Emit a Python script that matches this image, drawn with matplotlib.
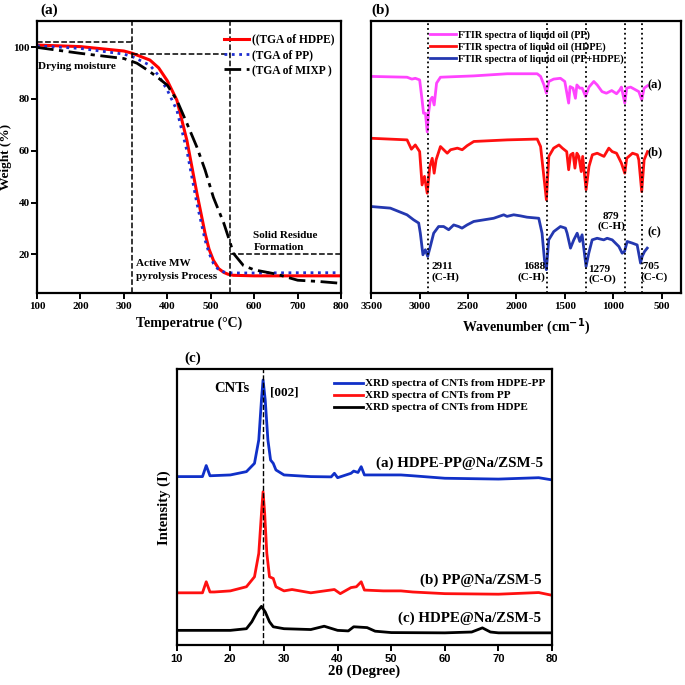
import matplotlib
matplotlib.use("Agg")
from matplotlib import pyplot as plt

plt.rcParams['font.family'] = 'Liberation Serif'
plt.rcParams['font.weight'] = 'bold'
plt.rcParams['axes.labelweight'] = 'bold'

# (a) TGA curves
temp_hdpe = [100, 200, 300, 320, 360, 380, 400, 422, 445, 468, 487, 496, 506, 518, 530, 540, 552, 600, 700, 800]
wt_hdpe = [100.8, 100.2, 98.5, 97.6, 95.0, 92.0, 87.0, 79.5, 64.0, 43.6, 28.0, 22.0, 17.7, 14.5, 13.0, 12.3, 11.9, 11.7, 11.7, 11.7]
temp_pp = [100, 200, 300, 320, 360, 380, 400, 422, 445, 468, 487, 496, 506, 518, 530, 540, 552, 600, 700, 800]
wt_pp = [100.5, 99.5, 97.3, 96.3, 93.0, 89.0, 83.4, 75.6, 60.0, 39.7, 25.4, 20.5, 16.5, 14.0, 13.2, 12.9, 12.8, 12.8, 12.9, 12.9]
temp_mix = [100, 200, 300, 330, 360, 380, 400, 422, 445, 468, 487, 506, 530, 545, 552, 575, 600, 650, 700, 750, 800]
wt_mix = [99.9, 97.6, 95.6, 93.8, 90.5, 88.0, 85.3, 79.5, 70.6, 61.4, 52.5, 42.0, 32.0, 24.3, 20.4, 15.7, 14.0, 12.4, 10.0, 9.5, 8.8]

# (b) FTIR spectra (offset transmittance, a.u.)
wn_pp = [3500, 3130, 3080, 3045, 3000, 2975, 2960, 2940, 2922, 2908, 2890, 2870, 2850, 2825, 2785,
         2440, 2095, 1785, 1750, 1715, 1690, 1665, 1615, 1545, 1500, 1460, 1445, 1415, 1390, 1375,
         1345, 1320, 1285, 1250, 1200, 1165, 1115, 1070, 1015, 965, 930, 915, 880, 860, 820, 770,
         735, 705, 680, 645]
tr_pp = [81.3, 81.0, 80.3, 80.6, 80.0, 72.5, 67.5, 67.5, 60.5, 67.5, 72.5, 73.5, 70.6, 78.8, 81.0,
         81.5, 82.3, 82.3, 81.3, 78.1, 75.0, 79.4, 80.3, 80.6, 79.4, 71.3, 77.5, 76.9, 73.1, 78.1,
         76.9, 76.9, 73.8, 77.3, 79.4, 78.1, 75.6, 75.0, 76.0, 74.8, 76.3, 77.3, 71.3, 76.9, 77.3, 76.3,
         75.6, 72.5, 76.9, 77.8]
wn_hdpe = [3500, 3130, 3085, 3045, 3000, 2975, 2950, 2922, 2895, 2870, 2850, 2830, 2785, 2715, 2680,
           2610, 2560, 2510, 2440, 2095, 1785, 1750, 1720, 1690, 1665, 1615, 1560, 1525, 1480, 1460,
           1440, 1415, 1395, 1375, 1355, 1330, 1315, 1280, 1250, 1215, 1165, 1095, 1045, 1010, 965,
           915, 880, 860, 800, 750, 735, 705, 680, 645]
tr_hdpe = [58.1, 57.5, 54.0, 55.6, 53.1, 40.6, 43.8, 37.5, 47.5, 50.6, 45.0, 50.0, 55.0, 52.5, 53.8,
           54.4, 53.8, 55.3, 56.9, 57.5, 57.8, 55.0, 45.0, 35.0, 51.3, 54.4, 55.6, 54.4, 53.1, 46.3,
           51.9, 52.5, 46.9, 52.5, 51.3, 45.6, 51.3, 38.8, 47.5, 51.9, 52.5, 51.3, 54.4, 53.1, 52.5,
           48.8, 45.0, 50.6, 52.5, 51.9, 50.0, 38.1, 50.0, 53.1]
wn_mix = [3500, 3303, 3131, 3062, 3010, 2993, 2966, 2941, 2917, 2890, 2855, 2804, 2752, 2700, 2648,
          2597, 2562, 2510, 2441, 2338, 2235, 2131, 2097, 2028, 1959, 1890, 1769, 1735, 1710, 1690,
          1666, 1614, 1545, 1493, 1476, 1441, 1407, 1372, 1345, 1321, 1280, 1252, 1217, 1166, 1097,
          1062, 1010, 941, 907, 883, 855, 804, 752, 717, 700, 676, 648]
tr_mix = [32.5, 31.9, 29.4, 27.5, 26.3, 22.5, 14.4, 16.3, 13.8, 17.5, 22.5, 25.0, 25.0, 23.8, 25.6,
          25.0, 24.4, 25.6, 26.9, 27.5, 28.1, 29.4, 28.8, 29.4, 29.0, 28.5, 28.1, 22.5, 12.5, 8.8,
          20.0, 23.1, 25.0, 24.4, 22.5, 16.9, 20.0, 22.5, 19.4, 21.9, 10.0, 15.0, 20.0, 20.6, 20.0,
          20.6, 20.0, 17.5, 15.0, 15.6, 19.4, 18.8, 18.1, 11.3, 13.8, 15.6, 16.9]
peaks_ftir = [2911, 1688, 1279, 879, 705]

# (c) XRD patterns (offset intensity, a.u.)
th_a = [10, 14.8, 15.5, 16.2, 20, 23, 24.5, 25.3, 25.8, 26.1, 26.5, 27.0, 27.5, 28.0, 28.5, 30, 35,
        38.8, 39.4, 40, 42.5, 43, 43.8, 44.4, 45, 48.5, 51.8, 54, 60, 70, 77.5, 80]
in_a = [61.1, 61.1, 65.1, 61.4, 61.7, 62.9, 65.9, 74.4, 88.9, 96.1, 88.9, 74.4, 67.1, 65.9, 63.5, 61.7, 61.1,
        61.0, 62.3, 60.7, 62.3, 63.1, 62.6, 64.7, 61.7, 61.7, 61.7, 61.4, 60.5, 60.2, 60.7, 59.9]
th_b = [10, 14.8, 15.5, 16.2, 17, 20, 23, 24.5, 25.3, 25.8, 26.1, 26.4, 26.8, 27.3, 28.0, 28.5, 30,
        31.5, 35, 39.4, 40.5, 42.5, 43.5, 44.4, 45, 48.5, 51.8, 54, 60, 70, 77.5, 80]
in_b = [19.0, 19.0, 23.0, 19.3, 19.3, 19.7, 21.2, 24.8, 33.3, 47.8, 55.6, 47.8, 33.3, 24.8, 24.2, 21.2, 19.7,
        20.2, 19.0, 20.2, 18.7, 20.9, 21.2, 23.0, 20.0, 19.7, 19.7, 19.3, 18.7, 18.5, 19.1, 18.1]
th_c = [10, 20, 23, 24, 25, 25.8, 26.5, 27.3, 28, 30, 35, 37.5, 40, 42, 43, 45.5, 47, 50, 60, 65, 67,
        68.5, 70, 80]
in_c = [5.4, 5.4, 6.0, 8.5, 12.1, 14.1, 12.1, 8.5, 6.7, 6.0, 5.7, 6.9, 5.4, 5.2, 6.7, 6.4, 5.1, 4.6,
        4.5, 4.8, 6.3, 4.8, 4.5, 4.5]

fig = plt.figure(figsize=(6.85, 6.85), dpi=100)

# ---------- (a) ----------
ax1 = fig.add_axes([0.054, 0.572, 0.444, 0.397])
ax1.plot(temp_hdpe, wt_hdpe, color='red', lw=2.2, label='((TGA of HDPE)')
ax1.plot(temp_pp, wt_pp, color='#1f2fd0', lw=2, ls=':', label='(TGA of PP)')
ax1.plot(temp_mix, wt_mix, color='black', lw=2, ls=(0, (6, 2, 1.5, 2)), label='(TGA of MIXP )')
for xv in [319, 545]:
    ax1.axvline(xv, color='black', ls='--', lw=1.1)
ax1.hlines(102, 100, 319, color='black', ls='--', lw=1.1)
ax1.hlines(97.3, 319, 545, color='black', ls='--', lw=1.1)
ax1.hlines(20, 545, 800, color='black', ls='--', lw=1.1)
ax1.text(103, 92.6, 'Drying moisture', fontsize=8, va='center')
ax1.text(328, 14, 'Active MW\npyrolysis Process', fontsize=8, va='center', linespacing=1.5)
ax1.text(598, 25, 'Solid Residue\nFormation', fontsize=8, va='center', linespacing=1.5)
ax1.set_xlim(100, 800)
ax1.set_ylim(5, 110)
ax1.set_xticks([100, 200, 300, 400, 500, 600, 700, 800])
ax1.set_yticks([20, 40, 60, 80, 100])
ax1.set_xlabel('Temperatrue (°C)', fontsize=10)
ax1.set_ylabel('Weight (%)', fontsize=9.5)
ax1.yaxis.set_label_coords(-0.082, 0.5)
ax1.legend(loc='upper right', bbox_to_anchor=(1.0, 0.98), fontsize=8.3, frameon=False,
           handlelength=2.2, handletextpad=0.2, borderaxespad=0.2, labelspacing=0.3)
ax1.text(0.01, 1.015, '(a)', transform=ax1.transAxes, fontsize=11, va='bottom')

# ---------- (b) ----------
ax2 = fig.add_axes([0.542, 0.572, 0.452, 0.397])
ax2.plot(wn_pp, tr_pp, color='#ff44ff', lw=2, label='FTIR spectra of liquid oil (PP)')
ax2.plot(wn_hdpe, tr_hdpe, color='#ff1010', lw=2, label='FTIR spectra of liquid oil (HDPE)')
ax2.plot(wn_mix, tr_mix, color='#2438b0', lw=2, label='FTIR spectra of liquid oil (PP+HDPE)')
for p in peaks_ftir:
    ax2.axvline(p, color='black', ls=':', lw=1.3)
ax2.set_xlim(3500, 300)
ax2.set_ylim(0, 102)
ax2.set_yticks([])
ax2.set_xticks([3500, 3000, 2500, 2000, 1500, 1000, 500])
ax2.set_xlabel('Wavenumber (cm$^{\\mathbf{-1}}$)', fontsize=10)
ax2.legend(loc='upper left', bbox_to_anchor=(0.16, 1.0), fontsize=7.3, frameon=False,
           handlelength=2.6, handletextpad=0.2, labelspacing=0.25)
ax2.text(650, 78, '(a)', fontsize=9, va='center')
ax2.text(650, 53, '(b)', fontsize=9, va='center')
ax2.text(650, 23, '(c)', fontsize=9, va='center')
ax2.text(2880, 8, '2911\n(C-H)', fontsize=8, va='center', linespacing=1.1)
ax2.text(1700, 8, '1688\n(C-H)', fontsize=8, va='center', ha='right', linespacing=1.1)
ax2.text(1260, 7, '1279\n(C-O)', fontsize=8, va='center', linespacing=1.1)
ax2.text(1020, 27, '879\n(C-H)', fontsize=8, va='center', ha='center', linespacing=1.1)
ax2.text(720, 8, ' 705\n(C-C)', fontsize=8, va='center', linespacing=1.1)
ax2.text(0.0, 1.015, '(b)', transform=ax2.transAxes, fontsize=11, va='bottom')

# ---------- (c) ----------
ax3 = fig.add_axes([0.258, 0.058, 0.548, 0.403])
ax3.plot(th_a, in_a, color='#1030c8', lw=2, label='XRD spectra of CNTs from HDPE-PP')
ax3.plot(th_b, in_b, color='#ff1010', lw=2, label='XRD spectra of CNTs from PP')
ax3.plot(th_c, in_c, color='black', lw=2, label='XRD spectra of CNTs from HDPE')
ax3.axvline(26.1, color='black', ls='--', lw=1)
ax3.text(20.3, 93, 'CNTs', fontsize=10.5, ha='center', va='center')
ax3.text(27.4, 91.5, '[002]', fontsize=9.5, va='center')
ax3.text(78.3, 65.9, '(a) HDPE-PP@Na/ZSM-5', fontsize=10.8, ha='right', va='center')
ax3.text(78.0, 23.5, '(b) PP@Na/ZSM-5', fontsize=10.8, ha='right', va='center')
ax3.text(78.0, 9.7, '(c) HDPE@Na/ZSM-5', fontsize=10.8, ha='right', va='center')
ax3.set_xlim(10, 80)
ax3.set_ylim(0, 100)
ax3.set_yticks([])
ax3.set_xticks([10, 20, 30, 40, 50, 60, 70, 80])
for lb in ax3.get_xticklabels():
    lb.set_family('Liberation Sans')
    lb.set_fontweight('bold')
    lb.set_fontsize(9)
ax3.set_xlabel('2θ (Degree)', fontsize=10.5, labelpad=1)
ax3.set_ylabel('Intensity (I)', fontsize=10.5)
ax3.legend(loc='upper right', bbox_to_anchor=(1.0, 0.99), fontsize=8, frameon=False,
           handlelength=2.6, handletextpad=0.2, labelspacing=0.2, borderaxespad=0.2)
ax3.text(0.02, 1.015, '(c)', transform=ax3.transAxes, fontsize=11, va='bottom')

for ax in [ax1, ax2, ax3]:
    for s in ax.spines.values():
        s.set_linewidth(1.6)
    ax.tick_params(direction='out', width=1.4, length=4, labelsize=8, pad=2)
ax1.tick_params(axis='y', pad=1)

fig.savefig('out.png', dpi=100)
